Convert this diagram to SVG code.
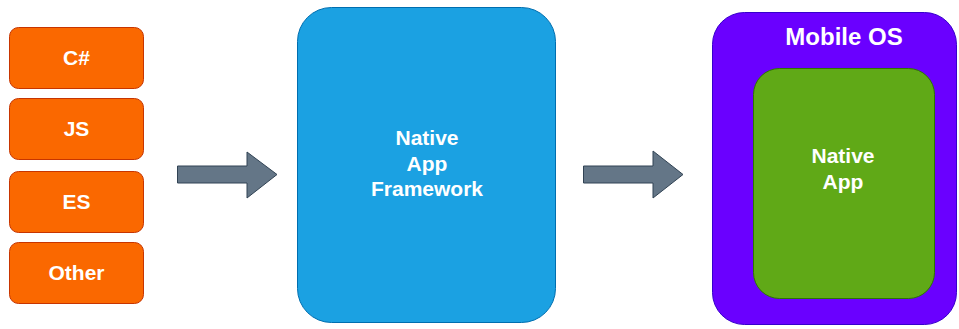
<svg xmlns="http://www.w3.org/2000/svg" width="959" height="329" viewBox="0 0 959 329">
<style>
.lang{fill:#FA6800;stroke:#C73500;stroke-width:1}
.t{font-family:"Liberation Sans",Arial,sans-serif;font-weight:bold;fill:#FFFFFF;text-anchor:middle;font-size:21px}
.arrow{fill:#647687;stroke:#314354;stroke-width:1}
</style>
<rect width="959" height="329" fill="#FFFFFF"/>
<g id="cs"><rect class="lang" x="9.5" y="27.5" width="134" height="61" rx="9"/><text class="t" x="76.5" y="65">C#</text></g>
<g id="js"><rect class="lang" x="9.5" y="98.5" width="134" height="61" rx="9"/><text class="t" x="76.5" y="136">JS</text></g>
<g id="es"><rect class="lang" x="9.5" y="171.5" width="134" height="61" rx="9"/><text class="t" x="76.5" y="209">ES</text></g>
<g id="other"><rect class="lang" x="9.5" y="242.5" width="134" height="61" rx="9"/><text class="t" x="76.5" y="280">Other</text></g>
<g id="framework"><rect x="297.5" y="7.5" width="258" height="315" rx="34" fill="#1BA1E2" stroke="#006EAF"/>
<text class="t" x="427" y="145">Native</text>
<text class="t" x="427" y="170.5">App</text>
<text class="t" x="427" y="196">Framework</text></g>
<g id="mobileos"><rect x="712.5" y="12.5" width="244" height="312" rx="32" fill="#6A00FF" stroke="#3700CC"/>
<text class="t" x="844" y="45" style="font-size:24px">Mobile OS</text></g>
<g id="nativeapp"><rect x="753.5" y="68.5" width="181" height="230" rx="26" fill="#60A917" stroke="#2D7600"/>
<text class="t" x="843" y="163">Native</text>
<text class="t" x="843" y="188.5">App</text></g>
<g id="connectors">
<path class="arrow" d="M177.5 166 L247 166 L247 152 L277 174.5 L247 198 L247 183 L177.5 183 Z"/>
<path class="arrow" d="M583.5 166 L653 166 L653 151 L683 174.5 L653 198 L653 183 L583.5 183 Z"/>
</g>
</svg>
